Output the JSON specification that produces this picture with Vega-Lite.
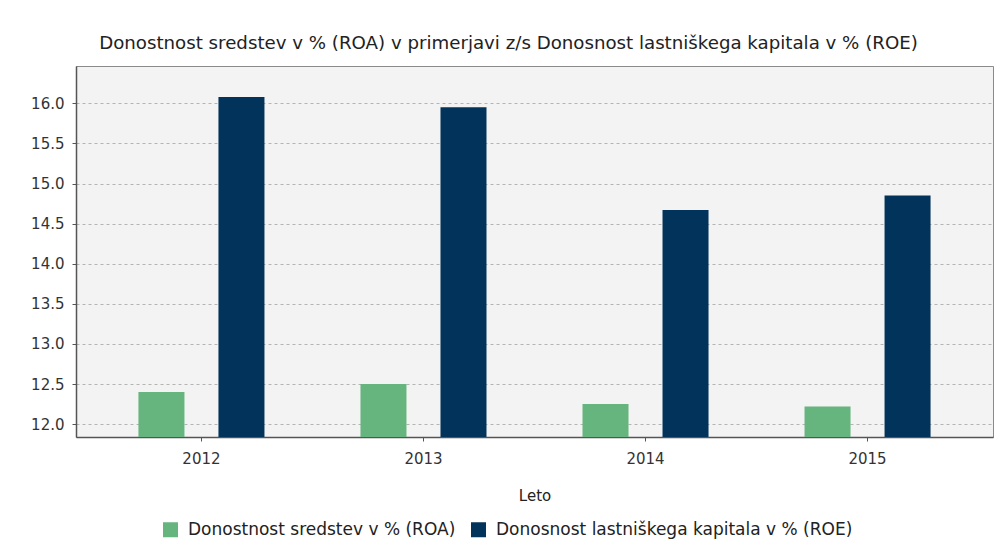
{
  "$schema": "https://vega.github.io/schema/vega-lite/v6.json",
  "width": 917,
  "height": 371,
  "autosize": {"type": "none"},
  "padding": {"left": 76, "top": 66, "right": 3, "bottom": 103},
  "background": "white",
  "config": {
    "font": "DejaVu Sans",
    "view": {"fill": "#f3f3f3", "stroke": "#8a8a8a", "strokeWidth": 1}
  },
  "title": {
    "text": "Donostnost sredstev v % (ROA) v primerjavi z/s Donosnost lastniškega kapitala v % (ROE)",
    "font": "DejaVu Sans",
    "fontSize": 18.2,
    "fontWeight": "normal",
    "color": "#222222",
    "anchor": "middle",
    "dx": -26,
    "offset": 13
  },
  "data": {
    "values": [
      {"leto": "2012", "serija": "Donostnost sredstev v % (ROA)", "vrednost": 12.40},
      {"leto": "2012", "serija": "Donosnost lastniškega kapitala v % (ROE)", "vrednost": 16.08},
      {"leto": "2013", "serija": "Donostnost sredstev v % (ROA)", "vrednost": 12.50},
      {"leto": "2013", "serija": "Donosnost lastniškega kapitala v % (ROE)", "vrednost": 15.95},
      {"leto": "2014", "serija": "Donostnost sredstev v % (ROA)", "vrednost": 12.25},
      {"leto": "2014", "serija": "Donosnost lastniškega kapitala v % (ROE)", "vrednost": 14.67},
      {"leto": "2015", "serija": "Donostnost sredstev v % (ROA)", "vrednost": 12.22},
      {"leto": "2015", "serija": "Donosnost lastniškega kapitala v % (ROE)", "vrednost": 14.85}
    ]
  },
  "mark": {"type": "bar", "clip": true},
  "encoding": {
    "x": {
      "field": "leto",
      "type": "nominal",
      "scale": {"paddingInner": 0, "paddingOuter": 0.065},
      "axis": {
        "title": "Leto",
        "labelAngle": 0,
        "labelFont": "DejaVu Sans",
        "labelFontSize": 15,
        "labelColor": "#333333",
        "labelPadding": 10,
        "tickSize": 4,
        "tickColor": "#555555",
        "domainColor": "#555555",
        "domainWidth": 1.5,
        "titleFont": "DejaVu Sans",
        "titleFontSize": 15,
        "titleFontWeight": "normal",
        "titleColor": "#222222",
        "titlePadding": 22
      }
    },
    "xOffset": {
      "field": "serija",
      "type": "nominal",
      "sort": ["Donostnost sredstev v % (ROA)", "Donosnost lastniškega kapitala v % (ROE)"],
      "scale": {"paddingInner": 0.425, "paddingOuter": 0.6}
    },
    "y": {
      "field": "vrednost",
      "type": "quantitative",
      "scale": {"domain": [11.84, 16.465], "nice": false, "zero": false},
      "axis": {
        "title": null,
        "values": [12.0, 12.5, 13.0, 13.5, 14.0, 14.5, 15.0, 15.5, 16.0],
        "format": ".1f",
        "labelFont": "DejaVu Sans",
        "labelFontSize": 15,
        "labelColor": "#333333",
        "labelPadding": 8,
        "tickSize": 4,
        "tickColor": "#555555",
        "domainColor": "#555555",
        "domainWidth": 1.5,
        "grid": true,
        "gridColor": "#b4b4b4",
        "gridDash": [3, 3],
        "gridWidth": 1
      }
    },
    "color": {
      "field": "serija",
      "type": "nominal",
      "scale": {
        "domain": ["Donostnost sredstev v % (ROA)", "Donosnost lastniškega kapitala v % (ROE)"],
        "range": ["#66b47e", "#02335a"]
      },
      "legend": {
        "title": null,
        "orient": "none",
        "legendX": 86,
        "legendY": 455,
        "direction": "horizontal",
        "symbolType": "square",
        "symbolSize": 225,
        "symbolStrokeWidth": 0,
        "labelFont": "DejaVu Sans",
        "labelFontSize": 17,
        "labelColor": "#222222",
        "labelOffset": 9,
        "labelLimit": 0,
        "columnPadding": 14
      }
    }
  }
}
